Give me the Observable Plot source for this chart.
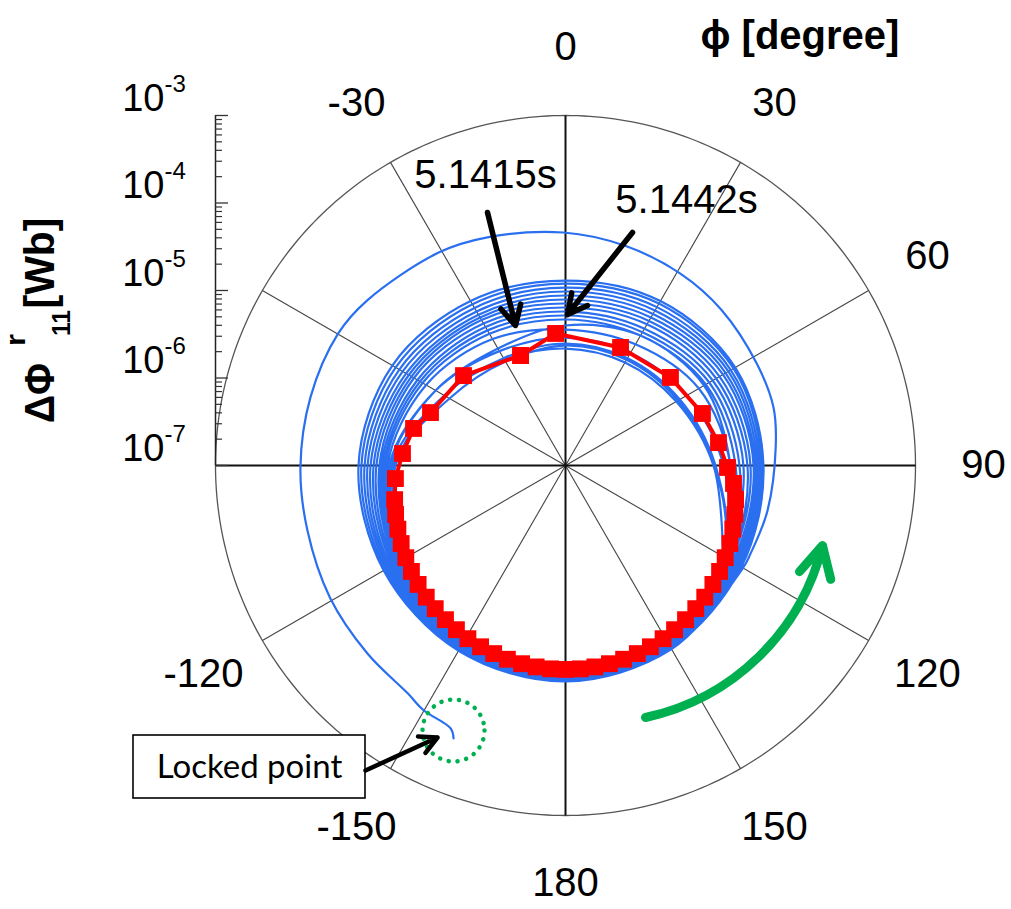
<!DOCTYPE html>
<html><head><meta charset="utf-8">
<script src="https://cdn.jsdelivr.net/npm/d3@7"></script>
<script src="https://cdn.jsdelivr.net/npm/@observablehq/plot@0.6"></script>
<style>html,body{margin:0;padding:0;background:#fff;} svg{display:block}</style>
</head><body><div id="chart"></div>
<script>
// ================= DATA =================
// Outer spiral of the blue trajectory (from the locked point inward), phi in degrees, value in Wb
const spiralPhi   = [-157.7, -156.4, -149.9, -145.3, -133.5, -119.3, -104.1, -90.4, -75, -59.9, -50.2, -30.8, -18.9, -0.5, 15, 30.9, 45, 62, 74.4, 85, 102.6, 115.4];
const spiralValue = [2.35e-4, 1.90e-4, 1.71e-4, 1.47e-4, 1.32e-4, 1.22e-4, 1.10e-4, 1.07e-4, 1.04e-4, 1.01e-4, 8.9e-5, 6.8e-5, 5.7e-5, 4.6e-5, 4.0e-5, 3.6e-5, 3.3e-5, 3.0e-5, 2.94e-5, 2.58e-5, 2.32e-5, 2.20e-5];

// Blue rotating loops: values (Wb) at these phi (degrees), one row per turn
const loopPhi = [120, 150, 180, -150, -120, -90, -60, -30, 0, 30, 60, 90];
const loop1  = [2.20e-5, 2.65e-5, 2.94e-5, 2.79e-5, 2.51e-5, 2.32e-5, 1.93e-5, 1.48e-5, 1.30e-5, 1.48e-5, 1.74e-5, 1.83e-5];
const loop2  = [2.09e-5, 2.58e-5, 2.87e-5, 2.72e-5, 2.38e-5, 2.15e-5, 1.74e-5, 1.34e-5, 1.20e-5, 1.37e-5, 1.65e-5, 1.74e-5];
const loop3  = [1.98e-5, 2.51e-5, 2.79e-5, 2.65e-5, 2.26e-5, 1.98e-5, 1.56e-5, 1.20e-5, 1.08e-5, 1.23e-5, 1.52e-5, 1.65e-5];
const loop4  = [1.88e-5, 2.45e-5, 2.72e-5, 2.58e-5, 2.15e-5, 1.83e-5, 1.41e-5, 1.08e-5, 9.74e-6, 1.11e-5, 1.41e-5, 1.56e-5];
const loop5  = [1.78e-5, 2.38e-5, 2.65e-5, 2.51e-5, 2.04e-5, 1.69e-5, 1.27e-5, 9.74e-6, 8.77e-6, 1.00e-5, 1.30e-5, 1.48e-5];
const loop6  = [1.69e-5, 2.32e-5, 2.58e-5, 2.45e-5, 1.93e-5, 1.56e-5, 1.17e-5, 9.00e-6, 7.89e-6, 9.00e-6, 1.20e-5, 1.41e-5];
const loop7  = [1.61e-5, 2.26e-5, 2.51e-5, 2.38e-5, 1.83e-5, 1.45e-5, 1.08e-5, 8.32e-6, 7.10e-6, 8.10e-6, 1.08e-5, 1.30e-5];
const loop8  = [1.52e-5, 2.20e-5, 2.45e-5, 2.32e-5, 1.74e-5, 1.34e-5, 1.00e-5, 7.49e-6, 6.39e-6, 7.29e-6, 9.74e-6, 1.20e-5];
const loop9  = [1.48e-5, 2.15e-5, 2.38e-5, 2.20e-5, 1.65e-5, 1.27e-5, 9.00e-6, 6.74e-6, 5.75e-6, 6.39e-6, 8.77e-6, 1.08e-5];
const loop10 = [1.27e-5, 1.93e-5, 2.15e-5, 1.98e-5, 1.41e-5, 1.00e-5, 5.18e-6, 3.49e-6, 3.98e-6, 5.18e-6, 6.74e-6, 7.69e-6];
const loop11 = [1.41e-5, 2.09e-5, 2.32e-5, 2.15e-5, 1.56e-5, 1.20e-5, 8.32e-6, 6.07e-6, 5.18e-6, 5.75e-6, 7.89e-6, 9.74e-6];
const loop12 = [1.37e-5, 2.04e-5, 2.26e-5, 2.09e-5, 1.48e-5, 1.14e-5, 7.69e-6, 5.46e-6, 4.66e-6, 5.18e-6, 7.10e-6, 8.77e-6];
const loop13 = [1.34e-5, 1.98e-5, 2.20e-5, 2.04e-5, 1.45e-5, 1.08e-5, 6.92e-6, 4.66e-6, 3.58e-6, 3.98e-6, 5.75e-6, 7.69e-6];
const loop14 = [1.30e-5, 1.93e-5, 2.15e-5, 1.98e-5, 1.41e-5, 1.03e-5, 5.18e-6, 3.23e-6, 2.90e-6, 3.06e-6, 3.98e-6, 6.39e-6];
const loop15 = [1.27e-5, 1.93e-5, 2.15e-5, 1.93e-5, 1.37e-5, 9.74e-6, 3.98e-6, 2.61e-6, 2.48e-6, 2.61e-6, 3.23e-6, 5.18e-6];
const loop16 = [1.23e-5, 1.88e-5, 2.09e-5, 1.93e-5, 1.34e-5, 9.24e-6, 3.40e-6, 2.35e-6, 2.35e-6, 2.48e-6, 3.06e-6, 5.04e-6];
const loop17 = [1.20e-5, 1.83e-5, 2.04e-5, 1.88e-5, 1.30e-5, 8.77e-6, 3.98e-6, 2.48e-6, 2.17e-6, 2.29e-6, 2.90e-6, 4.91e-6];
const loopEndPhi = 120, loopEndValue = 1.20e-5;

// Red marked turn (5.1415 s - 5.1442 s)
const redPhi = [-22.2, -4.3, 25.0, 50.0, 69.2, 81.5, 90.7, 96.1, 101.3, 106.1, 110.8, 115.4, 120.0, 124.5, 128.9, 133.4, 137.7, 142.1, 146.4, 150.6, 154.9, 159.1, 163.3, 167.5, 171.7, 175.8, 180.0, -175.8, -171.7, -167.5, -163.3, -159.1, -154.9, -150.6, -146.4, -142.1, -137.7, -133.4, -128.9, -124.5, -120.0, -115.4, -110.8, -106.1, -101.3, -94.4, -85.8, -76.3, -68.6, -48.6, -22.2];
const redValue = [2.28e-6, 3.26e-6, 3.08e-6, 3.68e-6, 4.72e-6, 5.86e-6, 7.10e-6, 8.53e-6, 9.6e-6, 1.035e-5, 1.11e-5, 1.20e-5, 1.28e-5, 1.37e-5, 1.46e-5, 1.55e-5, 1.63e-5, 1.71e-5, 1.79e-5, 1.87e-5, 1.94e-5, 2.00e-5, 2.05e-5, 2.09e-5, 2.12e-5, 2.14e-5, 2.14e-5, 2.14e-5, 2.12e-5, 2.09e-5, 2.05e-5, 2.00e-5, 1.94e-5, 1.87e-5, 1.79e-5, 1.71e-5, 1.63e-5, 1.55e-5, 1.46e-5, 1.37e-5, 1.28e-5, 1.20e-5, 1.12e-5, 1.05e-5, 9.8e-6, 8.9e-6, 7.38e-6, 6.13e-6, 4.54e-6, 3.58e-6, 2.28e-6];

// Axes
const angleTicks  = [0, 30, 60, 90, 120, 150, 180, -150, -120, -90, -60, -30];
const angleLabels = ["0", "30", "60", "90", "120", "150", "180", "-150", "-120", "", "", "-30"];
const radialDecades   = [1e-7, 1e-6, 1e-5, 1e-4, 1e-3];
const radialExponents = ["-7", "-6", "-5", "-4", "-3"];
const minorMultipliers = [2, 3, 4, 5, 6, 7, 8, 9];
const timeLabels = ["5.1415s", "5.1442s"];

// ================= LAYOUT =================
const W = 1011, H = 909;
const CX = 565, CY = 465;      // pixel position of the pole
const K = 87.5;                // pixels per decade
const RMIN = 1e-7, RMAX = 1e-3;
const RR = Math.log10(RMAX / RMIN);  // outer radius in decades
const DEG = Math.PI / 180;
const rad = v => Math.log10(v / RMIN);
const toXY = (phi, v) => ({x: rad(v) * Math.sin(phi * DEG), y: rad(v) * Math.cos(phi * DEG)});
const px = X => (X - CX) / K, py = Y => (CY - Y) / K;   // annotation anchors

const blue = [];
spiralPhi.forEach((p, i) => blue.push(toXY(p, spiralValue[i])));
[loop1, loop2, loop3, loop4, loop5, loop6, loop7, loop8, loop9, loop10, loop11, loop12, loop13, loop14, loop15, loop16, loop17]
  .forEach(loop => loop.forEach((v, i) => blue.push(toXY(loopPhi[i], v))));
blue.push(toXY(loopEndPhi, loopEndValue));

const red = redPhi.map((p, i) => toXY(p, redValue[i]));

const circle = d3.range(0, 361, 1).map(a => ({x: RR * Math.sin(a * DEG), y: RR * Math.cos(a * DEG)}));
const mainSpokes = angleTicks.filter(a => a % 90 === 0);
const minorSpokes = angleTicks.filter(a => a % 90 !== 0);
const LABEL_R = 418 / K;
const angleLabelData = angleTicks.map((a, i) => ({a, label: angleLabels[i]})).filter(d => d.label);
const minorTicks = radialDecades.slice(0, -1).flatMap(d => minorMultipliers.map(m => d * m));
const AX = -RR;  // radial axis at left edge

const FONT = "Liberation Sans, Arial, sans-serif";

const chart = Plot.plot({
  width: W, height: H,
  margin: 0,
  x: {domain: [-CX / K, (W - CX) / K], range: [0, W], axis: null},
  y: {domain: [-(H - CY) / K, CY / K], range: [H, 0], axis: null},
  style: {fontFamily: FONT, background: "#fff", overflow: "visible"},
  marks: [
    // grid
    Plot.line(circle, {x: "x", y: "y", stroke: "#555", strokeWidth: 1.3}),
    Plot.link(minorSpokes, {x1: () => 0, y1: () => 0, x2: a => RR * Math.sin(a * DEG), y2: a => RR * Math.cos(a * DEG), stroke: "#444", strokeWidth: 1.1}),
    Plot.link(mainSpokes, {x1: () => 0, y1: () => 0, x2: a => RR * Math.sin(a * DEG), y2: a => RR * Math.cos(a * DEG), stroke: "#111", strokeWidth: 2}),
    // radial log axis
    Plot.ruleX([AX], {x: d => d, y1: () => 0, y2: () => RR, stroke: "#222", strokeWidth: 1.5}),
    Plot.ruleY(minorTicks, {y: d => rad(d), x1: () => AX, x2: () => AX + 7 / K, stroke: "#333", strokeWidth: 1.2}),
    Plot.ruleY(radialDecades, {y: d => rad(d), x1: () => AX, x2: () => AX + 13 / K, stroke: "#333", strokeWidth: 1.3}),
    Plot.text(radialDecades, {x: () => AX, y: d => rad(d), text: () => "10", dx: -51, dy: -5, textAnchor: "end", lineAnchor: "bottom", fontSize: 38, fill: "#000"}),
    Plot.text(radialDecades, {x: () => AX, y: d => rad(d), text: (d, i) => radialExponents[i], dx: -51, dy: -24, textAnchor: "start", lineAnchor: "bottom", fontSize: 24, fill: "#000"}),
    // angle labels
    Plot.text(angleLabelData, {x: d => LABEL_R * Math.sin(d.a * DEG), y: d => LABEL_R * Math.cos(d.a * DEG), text: "label", fontSize: 40, textAnchor: "middle", lineAnchor: "middle", fill: "#000"}),
    // data
    Plot.line(blue, {x: "x", y: "y", stroke: "#2a6ff0", strokeWidth: 2.2, curve: "catmull-rom"}),
    Plot.line(red, {x: "x", y: "y", stroke: "#ff0000", strokeWidth: 4}),
    Plot.dot(red, {x: "x", y: "y", symbol: "square", r: 9.5, fill: "#ff0000", stroke: "none"}),
    // annotations
    Plot.text([{t: timeLabels[0], x: px(485), y: py(187)}], {x: "x", y: "y", text: "t", fontSize: 40, textAnchor: "middle", lineAnchor: "bottom", fill: "#000"}),
    Plot.text([{t: timeLabels[1], x: px(686), y: py(212)}], {x: "x", y: "y", text: "t", fontSize: 40, textAnchor: "middle", lineAnchor: "bottom", fill: "#000"}),
    Plot.arrow([{x1: px(487), y1: py(212), x2: px(515), y2: py(325)}, {x1: px(632), y1: py(232), x2: px(567), y2: py(314)}],
      {x1: "x1", y1: "y1", x2: "x2", y2: "y2", stroke: "#000", strokeWidth: 5.5, headLength: 6, headAngle: 55}),
    Plot.arrow([{x1: px(645), y1: py(717), x2: px(822), y2: py(545)}],
      {x1: "x1", y1: "y1", x2: "x2", y2: "y2", stroke: "#00b050", strokeWidth: 9, bend: -32, headLength: 5.8, headAngle: 55}),
    Plot.dot([{x: px(453), y: py(730)}], {x: "x", y: "y", r: 31, fill: "none", stroke: "#00b050", strokeWidth: 4.5, strokeDasharray: "0.1,8.8", strokeLinecap: "round"}),
    Plot.rect([{x1: px(133), x2: px(365), y1: py(735), y2: py(798)}], {x1: "x1", x2: "x2", y1: "y1", y2: "y2", fill: "#fff", stroke: "#000", strokeWidth: 1.6}),
    Plot.text([{t: "Locked point", x: px(249), y: py(767)}], {x: "x", y: "y", text: "t", fontSize: 33, fontFamily: "Lato, Open Sans, sans-serif", textAnchor: "middle", lineAnchor: "middle", fill: "#000"}),
    Plot.arrow([{x1: px(365), y1: py(770), x2: px(437), y2: py(737)}],
      {x1: "x1", y1: "y1", x2: "x2", y2: "y2", stroke: "#000", strokeWidth: 4.5, headLength: 6.5, headAngle: 55}),
    Plot.text([{t: "\u03D5 [degree]", x: px(700), y: py(48)}], {x: "x", y: "y", text: "t", fontSize: 40, fontWeight: "bold", textAnchor: "start", lineAnchor: "bottom", fill: "#000"})
  ]
});
document.getElementById("chart").appendChild(chart);

// rotated y-axis title with super/subscripts (lengths fixed so the label spans like the original)
const svg = d3.select(chart);
const ylab = [
  {t: "\u0394\u03A6", x: 54, y: 393, size: 42, len: 60},
  {t: "r", x: 25, y: 340, size: 27, len: 12},
  {t: "11", x: 70, y: 323, size: 25, len: 26},
  {t: "[Wb]", x: 54, y: 263, size: 42, len: 91}
];
ylab.forEach(d => {
  svg.append("text")
    .attr("transform", `translate(${d.x},${d.y}) rotate(-90)`)
    .attr("font-family", FONT).attr("font-weight", "bold")
    .attr("font-size", d.size).attr("fill", "#000")
    .attr("textLength", d.len).attr("lengthAdjust", "spacingAndGlyphs")
    .text(d.t);
});
</script>
</body></html>
